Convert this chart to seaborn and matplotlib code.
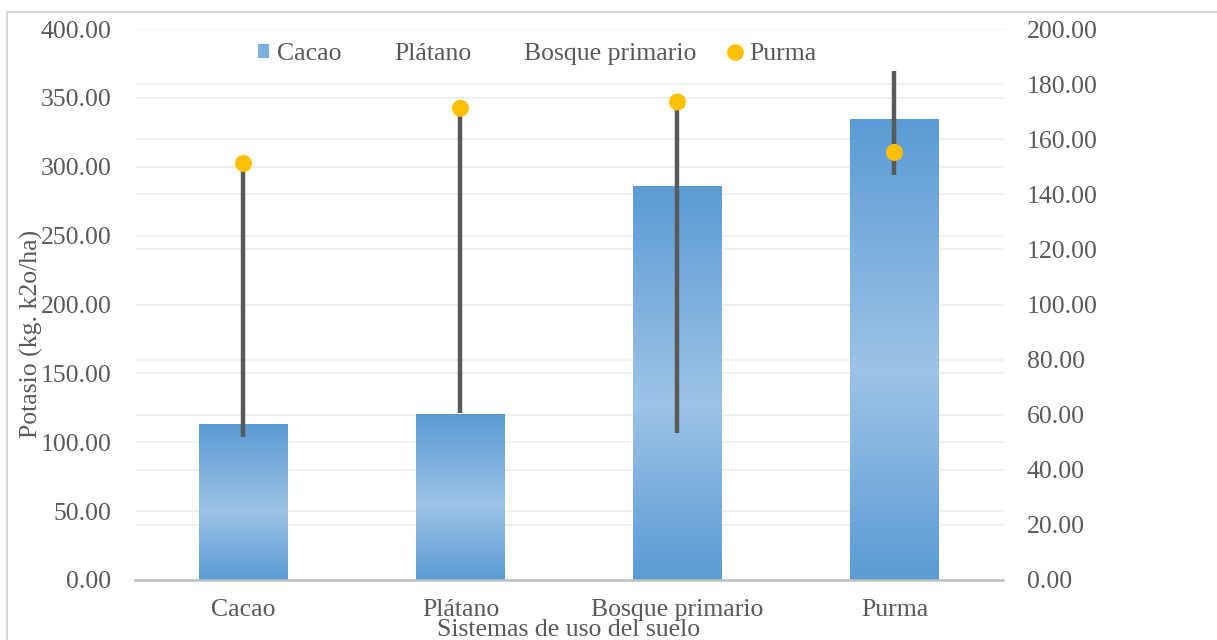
import numpy as np
import pandas as pd
import seaborn as sns
import matplotlib.pyplot as plt
from matplotlib.colors import LinearSegmentedColormap
from matplotlib.lines import Line2D
from matplotlib.patches import Patch, Rectangle

# data
categories = ["Cacao", "Plátano", "Bosque primario", "Purma"]
potasio = [113.2, 120.5, 285.3, 334.0]          # left axis (bars)
puntos_sec = [151.2, 171.2, 173.5, 155.2]       # right axis (yellow dots)
linea_baja = [51.8, 60.7, 53.2, 147.0]          # right axis, lower end of dark lines
linea_alta = [151.2, 171.2, 173.5, 184.8]       # right axis, upper end of dark lines
left_ticks = [0, 50, 100, 150, 200, 250, 300, 350, 400]
right_ticks = [0, 20, 40, 60, 80, 100, 120, 140, 160, 180, 200]
legend_names = ["Cacao", "Plátano", "Bosque primario", "Purma"]

sns.set_style("white")
plt.rcParams['font.family'] = ['Liberation Serif', 'DejaVu Serif']
txt = "#595959"
fs = 18.5

df = pd.DataFrame({"sistema": categories, "potasio": potasio})

fig = plt.figure(figsize=(12.17, 6.4), dpi=100)
ax = fig.add_axes([135 / 1217, 1 - 580 / 640, 868 / 1217, 551 / 640])

sns.barplot(data=df, x="sistema", y="potasio", ax=ax, width=0.41,
            color="#5B9BD5", saturation=1, zorder=2)

# vertical gradient inside each bar (dark - light - dark)
cmap = LinearSegmentedColormap.from_list("excel_blue", [(0, "#5B9BD5"), (0.55, "#9DC3E6"), (1, "#5B9BD5")])
grad = np.linspace(0, 1, 256).reshape(-1, 1)
for p in ax.patches:
    x0, w, h = p.get_x(), p.get_width(), p.get_height()
    ax.imshow(grad, cmap=cmap, aspect="auto", origin="upper",
              extent=[x0, x0 + w, 0, h], zorder=2, interpolation="bilinear")
    p.set_visible(False)

ax.set_xlim(-0.5, 3.5)
ax.set_ylim(0, 400)
ax.set_yticks(left_ticks)
ax.set_yticklabels([f"{v:.2f}" for v in left_ticks])
# right-axis gridlines drawn on the left axes so they stay behind bars
ax.set_yticks([v * 2 for v in right_ticks], minor=True)
ax.grid(True, axis="y", which="both", color="#F0F0F0", lw=1.5, zorder=0)
ax.set_axisbelow(True)
ax.tick_params(axis="y", which="both", length=0, pad=17, labelsize=fs, labelcolor=txt)
ax.tick_params(axis="x", length=0, pad=14, labelsize=fs, labelcolor=txt)
ax.set_xlabel("Sistemas de uso del suelo", fontsize=fs, color=txt, labelpad=-2)
ax.set_ylabel("Potasio (kg. k2o/ha)", fontsize=fs, color=txt)
ax.yaxis.set_label_coords(-0.106, 0.447)
for s in ["top", "right", "left"]:
    ax.spines[s].set_visible(False)
ax.spines["bottom"].set_color("#BFBFBF")
ax.spines["bottom"].set_linewidth(1.8)

ax2 = ax.twinx()
ax2.vlines(range(len(categories)), linea_baja, linea_alta, color="#595959", lw=3.2, zorder=3)
sns.scatterplot(x=range(len(categories)), y=puntos_sec, ax=ax2, color="#FFC000",
                s=150, edgecolor="none", zorder=4, legend=False)
ax2.set_ylim(0, 200)
ax2.set_yticks(right_ticks)
ax2.set_yticklabels([f"{v:.2f}" for v in right_ticks])
ax2.tick_params(axis="y", length=0, pad=17, labelsize=fs, labelcolor=txt)
ax2.grid(False)
ax2.set_ylabel("")
for s in ax2.spines.values():
    s.set_visible(False)
ax.set_xlim(-0.5, 3.5)

handles = [
    Patch(facecolor="#7AAFE0", edgecolor="none"),
    Line2D([], [], linestyle="none"),
    Line2D([], [], linestyle="none"),
    Line2D([], [], marker="o", linestyle="none", color="#FFC000", markersize=11),
]
ax.legend(handles, legend_names, ncol=4, loc="center", bbox_to_anchor=(0.463, 0.955),
          frameon=False, fontsize=fs, labelcolor=txt, handlelength=0.45,
          handleheight=0.45, handletextpad=0.3, columnspacing=1.3)

# chart outer border like the Excel chart area
fig.add_artist(Rectangle((7 / 1217, -0.05), 1.2, 1 - 12 / 640 + 0.05,
                         transform=fig.transFigure, fill=False,
                         edgecolor="#D9D9D9", lw=1.5))

fig.savefig("out.png", dpi=100)
